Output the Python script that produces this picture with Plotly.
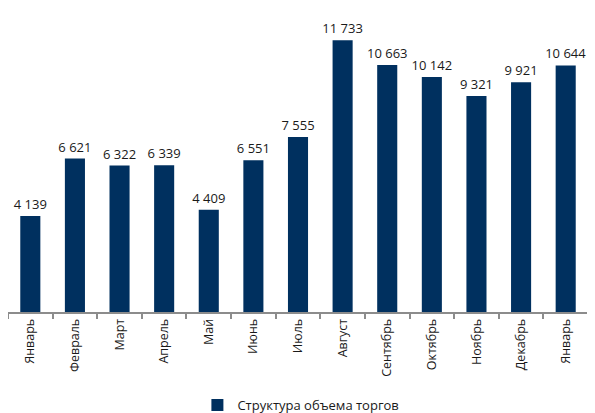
import plotly.graph_objects as go

months = ["Январь", "Февраль", "Март", "Апрель", "Май", "Июнь", "Июль",
          "Август", "Сентябрь", "Октябрь", "Ноябрь", "Декабрь", "Январь"]
values = [4139, 6621, 6322, 6339, 4409, 6551, 7555, 11733, 10663, 10142, 9321, 9921, 10644]
series_name = "Структура объема торгов"

x = list(range(len(months)))
font = "Open Sans"

fig = go.Figure()
fig.add_trace(go.Bar(
    x=x, y=values, name=series_name,
    marker=dict(color="#00305F", line=dict(width=0)),
    width=0.45,
    text=[f"{v:,}".replace(",", " ") for v in values],
    textposition="outside",
    constraintext="none",
    textfont=dict(size=13, color="#1a1a1a", family=font),
    cliponaxis=False,
    showlegend=True,
))

# page body has an 8px default margin, so the figure is sized to fit the window
fig.update_layout(
    width=587, height=405,
    margin=dict(l=0, r=7, t=26, b=101, autoexpand=False),
    paper_bgcolor="white", plot_bgcolor="white",
    font=dict(family=font, size=12, color="#1a1a1a"),
    showlegend=True,
    legend=dict(orientation="h", x=0.505, xanchor="center", y=-0.335, yanchor="middle",
                font=dict(size=13, family=font), itemwidth=30,
                tracegroupgap=0),
    xaxis=dict(
        range=[-0.5, len(months) - 0.5],
        tickvals=x, ticktext=months, tickangle=-90,
        ticks="", showgrid=False, zeroline=False, automargin=False,
        showline=True, linecolor="#8c8c8c", linewidth=1.5,
        tickfont=dict(size=12.5, family=font, color="#1a1a1a"),
        minor=dict(tickvals=[i - 0.5 for i in range(len(months) + 1)],
                   ticks="outside", ticklen=5, tickcolor="#8c8c8c", tickwidth=1.5,
                   showgrid=False),
    ),
    yaxis=dict(range=[0, 12000], visible=False, showgrid=False, automargin=False),
)

fig.write_html("out.html")
